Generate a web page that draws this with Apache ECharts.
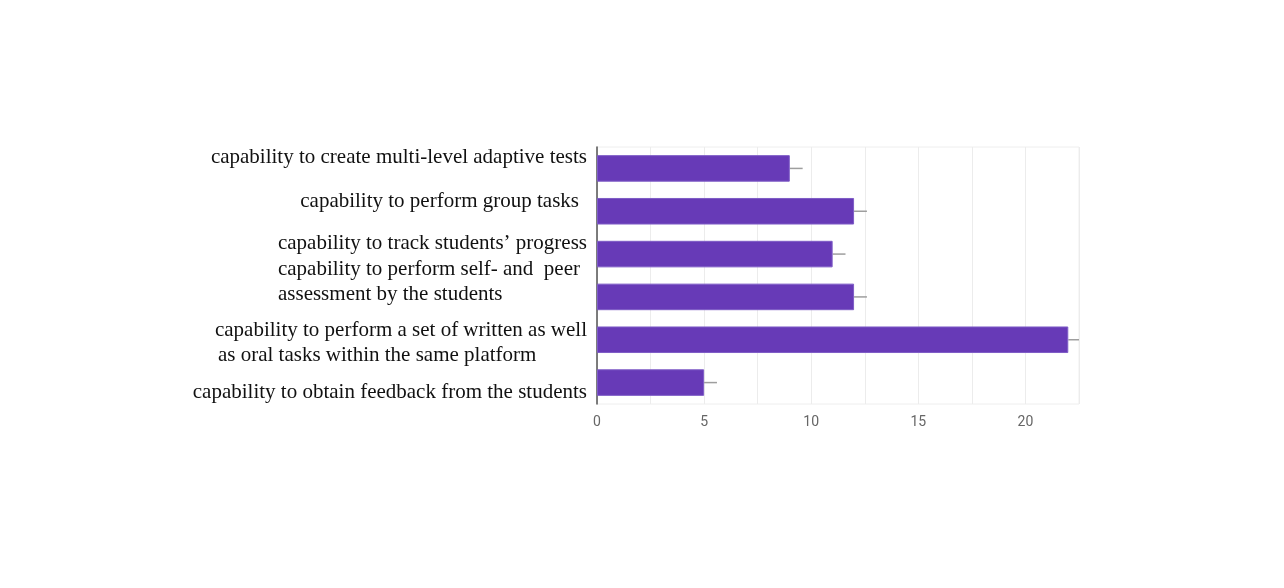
<!DOCTYPE html>
<html>
<head>
<meta charset="utf-8">
<script src="https://cdn.jsdelivr.net/npm/echarts@6/dist/echarts.min.js"></script>
<style>
html,body{margin:0;padding:0;background:#fff;}
#chart{width:1284px;height:588px;}
</style>
</head>
<body>
<div id="chart"></div>
<script>
// ---- data ----
const categories = [
  'capability to create multi-level adaptive tests',
  'capability to perform group tasks',
  'capability to track students\u2019 progress',
  'capability to perform self- and  peer\nassessment by the students',
  'capability to perform a set of written as well\nas oral tasks within the same platform',
  'capability to obtain feedback from the students'
];
const values = [9, 12, 11, 12, 22, 5];
const spread = [0.6, 0.6, 0.6, 0.6, 0.6, 0.6];
const xTicks = [0, 5, 10, 15, 20];

// ---- label layout (style only) ----
const labelShiftY = [-11, -10, -11, -15, 3, 9.5];
const labelPadRight = [0, 8, 0, 7, 0, 0];
const labelLineAlign = ['right', 'right', 'right', 'left', 'left', 'right'];
const labelLinePadLeft = [[0], [0], [0], [0, 0], [0, 3], [0]];

const rich = {};
categories.forEach((c, i) => {
  c.split('\n').forEach((l, j) => {
    rich['c' + i + '_' + j] = {
      fontFamily: 'Liberation Serif, Times New Roman, serif',
      fontSize: 21,
      lineHeight: 25,
      color: '#111',
      align: labelLineAlign[i],
      padding: [0, labelPadRight[i], 0, labelLinePadLeft[i][j] || 0]
    };
  });
  rich['sp' + i] = { fontSize: 1, lineHeight: Math.max(1, Math.abs(labelShiftY[i]) * 2) };
});

const chart = echarts.init(document.getElementById('chart'), null, { renderer: 'canvas' });
chart.setOption({
  backgroundColor: '#ffffff',
  animation: false,
  grid: {
    left: 597, right: 205, top: 147, bottom: 184,
    show: true, borderColor: '#eeeeee', borderWidth: 1, backgroundColor: 'transparent'
  },
  xAxis: {
    type: 'value', min: 0, max: 22.5, interval: 2.5,
    axisLine: { show: false }, axisTick: { show: false },
    splitLine: { show: true, lineStyle: { color: '#ececec', width: 1 } },
    axisLabel: {
      margin: 11, color: '#666', fontFamily: 'Roboto, Arial, sans-serif', fontSize: 14,
      formatter: v => (xTicks.indexOf(v) >= 0 ? String(v) : '')
    }
  },
  yAxis: {
    type: 'category', inverse: true, data: categories,
    axisLine: { show: true, lineStyle: { color: '#555', width: 1.5 } },
    axisTick: { show: false },
    splitLine: { show: false },
    axisLabel: {
      margin: 10,
      rich: rich,
      formatter: (value, index) => {
        const lines = value.split('\n').map((l, j) => '{c' + index + '_' + j + '|' + l + '}');
        const sp = '{sp' + index + '| }';
        const s = labelShiftY[index];
        if (s < 0) lines.push(sp);
        else if (s > 0) lines.unshift(sp);
        return lines.join('\n');
      }
    }
  },
  series: [
    {
      type: 'bar',
      data: values,
      barWidth: '62%',
      itemStyle: { color: '#673ab7', borderColor: '#7e5cc6', borderWidth: 1 },
      z: 3
    },
    {
      type: 'custom',
      clip: true,
      encode: { x: [0, 1], y: 2 },
      data: values.map((v, i) => [v, spread[i], i]),
      renderItem: (params, api) => {
        const v = api.value(0), e = api.value(1), idx = api.value(2);
        const p0 = api.coord([v, idx]);
        const p1 = api.coord([v + e, idx]);
        return {
          type: 'line',
          shape: { x1: p0[0], y1: p0[1], x2: p1[0], y2: p1[1] },
          style: { stroke: '#9e9e9e', lineWidth: 1.5 }
        };
      },
      z: 2
    }
  ]
});
</script>
</body>
</html>
